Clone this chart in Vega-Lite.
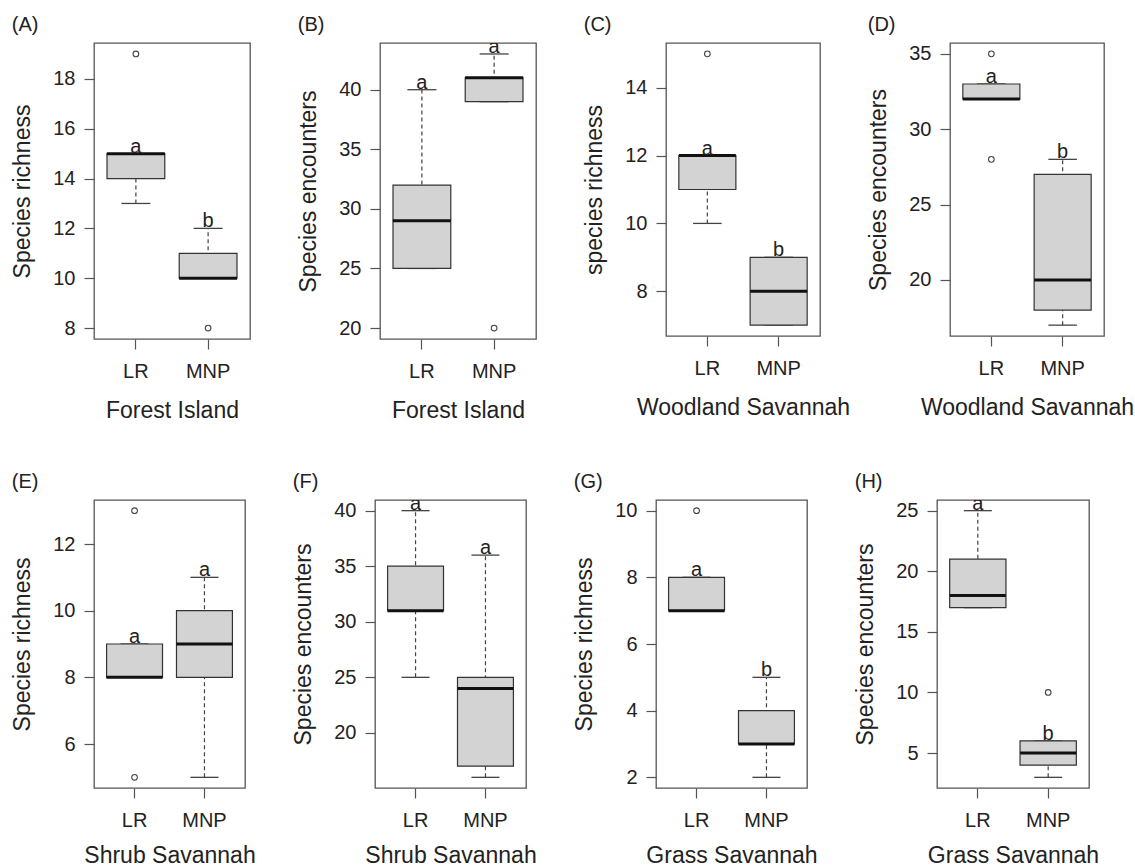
{
  "$schema": "https://vega.github.io/schema/vega-lite/v6.json",
  "background": "white",
  "padding": {"left": 11, "top": 14, "right": 5, "bottom": 5},
  "datasets": {
    "box": [
      {"p": "A", "site": "LR", "lo": 13, "q1": 14, "med": 15, "q3": 15, "hi": 15, "let": "a"},
      {"p": "A", "site": "MNP", "lo": 10, "q1": 10, "med": 10, "q3": 11, "hi": 12, "let": "b"},
      {"p": "B", "site": "LR", "lo": 25, "q1": 25, "med": 29, "q3": 32, "hi": 40, "let": "a"},
      {"p": "B", "site": "MNP", "lo": 39, "q1": 39, "med": 41, "q3": 41, "hi": 43, "let": "a"},
      {"p": "C", "site": "LR", "lo": 10, "q1": 11, "med": 12, "q3": 12, "hi": 12, "let": "a"},
      {"p": "C", "site": "MNP", "lo": 7, "q1": 7, "med": 8, "q3": 9, "hi": 9, "let": "b"},
      {"p": "D", "site": "LR", "lo": 32, "q1": 32, "med": 32, "q3": 33, "hi": 33, "let": "a"},
      {"p": "D", "site": "MNP", "lo": 17, "q1": 18, "med": 20, "q3": 27, "hi": 28, "let": "b"},
      {"p": "E", "site": "LR", "lo": 8, "q1": 8, "med": 8, "q3": 9, "hi": 9, "let": "a"},
      {"p": "E", "site": "MNP", "lo": 5, "q1": 8, "med": 9, "q3": 10, "hi": 11, "let": "a"},
      {"p": "F", "site": "LR", "lo": 25, "q1": 31, "med": 31, "q3": 35, "hi": 40, "let": "a"},
      {"p": "F", "site": "MNP", "lo": 16, "q1": 17, "med": 24, "q3": 25, "hi": 36, "let": "a"},
      {"p": "G", "site": "LR", "lo": 7, "q1": 7, "med": 7, "q3": 8, "hi": 8, "let": "a"},
      {"p": "G", "site": "MNP", "lo": 2, "q1": 3, "med": 3, "q3": 4, "hi": 5, "let": "b"},
      {"p": "H", "site": "LR", "lo": 17, "q1": 17, "med": 18, "q3": 21, "hi": 25, "let": "a"},
      {"p": "H", "site": "MNP", "lo": 3, "q1": 4, "med": 5, "q3": 6, "hi": 6, "let": "b"}
    ],
    "out": [
      {"p": "A", "site": "LR", "v": 19},
      {"p": "A", "site": "MNP", "v": 8},
      {"p": "B", "site": "MNP", "v": 20},
      {"p": "C", "site": "LR", "v": 15},
      {"p": "D", "site": "LR", "v": 35},
      {"p": "D", "site": "LR", "v": 28},
      {"p": "E", "site": "LR", "v": 13},
      {"p": "E", "site": "LR", "v": 5},
      {"p": "G", "site": "LR", "v": 10},
      {"p": "H", "site": "MNP", "v": 10}
    ]
  },
  "columns": 1,
  "align": "none",
  "center": true,
  "spacing": 48,
  "concat": [
    {
      "bounds": "flush",
      "spacing": 130,
      "hconcat": [
        {
          "title": "(A)", "width": 156, "height": 296,
          "data": {"name": "box"},
          "transform": [{"filter": "datum.p === 'A'"}],
          "encoding": {"x": {"field": "site", "type": "nominal", "scale": {"domain": ["LR", "MNP"], "paddingInner": 0.2, "paddingOuter": 0.18}, "axis": {"title": "Forest Island"}}},
          "layer": [
            {"mark": {"type": "rule", "strokeDash": [4, 3], "color": "#444", "strokeWidth": 1.2},
             "encoding": {"y": {"field": "lo", "type": "quantitative", "scale": {"domain": [7.56, 19.44], "nice": false, "zero": false}, "axis": {"title": "Species richness", "values": [8, 10, 12, 14, 16, 18]}}, "y2": {"field": "hi"}}},
            {"transform": [{"fold": ["lo", "hi"], "as": ["k", "cap"]}], "mark": {"type": "tick", "size": 29, "thickness": 1.3, "color": "#444", "opacity": 1}, "encoding": {"y": {"field": "cap", "type": "quantitative"}}},
            {"mark": {"type": "bar", "fill": "#d3d3d3", "stroke": "#333", "strokeWidth": 1.2}, "encoding": {"y": {"field": "q1", "type": "quantitative"}, "y2": {"field": "q3"}}},
            {"mark": {"type": "tick", "size": 58, "thickness": 3, "color": "#111", "opacity": 1}, "encoding": {"y": {"field": "med", "type": "quantitative"}}},
            {"mark": {"type": "text", "fontSize": 20, "color": "#222", "baseline": "alphabetic", "dy": -1, "clip": true}, "encoding": {"y": {"field": "hi", "type": "quantitative"}, "text": {"field": "let"}}},
            {"data": {"name": "out"}, "transform": [{"filter": "datum.p === 'A'"}], "mark": {"type": "point", "shape": "circle", "size": 32, "filled": false, "stroke": "#444", "strokeWidth": 1.1, "opacity": 1}, "encoding": {"y": {"field": "v", "type": "quantitative"}}}
          ]
        },
        {
          "title": "(B)", "width": 156, "height": 296,
          "data": {"name": "box"},
          "transform": [{"filter": "datum.p === 'B'"}],
          "encoding": {"x": {"field": "site", "type": "nominal", "scale": {"domain": ["LR", "MNP"], "paddingInner": 0.2, "paddingOuter": 0.18}, "axis": {"title": "Forest Island"}}},
          "layer": [
            {"mark": {"type": "rule", "strokeDash": [4, 3], "color": "#444", "strokeWidth": 1.2},
             "encoding": {"y": {"field": "lo", "type": "quantitative", "scale": {"domain": [19.08, 43.92], "nice": false, "zero": false}, "axis": {"title": "Species encounters", "values": [20, 25, 30, 35, 40]}}, "y2": {"field": "hi"}}},
            {"transform": [{"fold": ["lo", "hi"], "as": ["k", "cap"]}], "mark": {"type": "tick", "size": 29, "thickness": 1.3, "color": "#444", "opacity": 1}, "encoding": {"y": {"field": "cap", "type": "quantitative"}}},
            {"mark": {"type": "bar", "fill": "#d3d3d3", "stroke": "#333", "strokeWidth": 1.2}, "encoding": {"y": {"field": "q1", "type": "quantitative"}, "y2": {"field": "q3"}}},
            {"mark": {"type": "tick", "size": 58, "thickness": 3, "color": "#111", "opacity": 1}, "encoding": {"y": {"field": "med", "type": "quantitative"}}},
            {"mark": {"type": "text", "fontSize": 20, "color": "#222", "baseline": "alphabetic", "dy": -1, "clip": true}, "encoding": {"y": {"field": "hi", "type": "quantitative"}, "text": {"field": "let"}}},
            {"data": {"name": "out"}, "transform": [{"filter": "datum.p === 'B'"}], "mark": {"type": "point", "shape": "circle", "size": 32, "filled": false, "stroke": "#444", "strokeWidth": 1.1, "opacity": 1}, "encoding": {"y": {"field": "v", "type": "quantitative"}}}
          ]
        },
        {
          "title": "(C)", "width": 154, "height": 293,
          "data": {"name": "box"},
          "transform": [{"filter": "datum.p === 'C'"}],
          "encoding": {"x": {"field": "site", "type": "nominal", "scale": {"domain": ["LR", "MNP"], "paddingInner": 0.2, "paddingOuter": 0.18}, "axis": {"title": "Woodland Savannah"}}},
          "layer": [
            {"mark": {"type": "rule", "strokeDash": [4, 3], "color": "#444", "strokeWidth": 1.2},
             "encoding": {"y": {"field": "lo", "type": "quantitative", "scale": {"domain": [6.68, 15.32], "nice": false, "zero": false}, "axis": {"title": "species richness", "values": [8, 10, 12, 14]}}, "y2": {"field": "hi"}}},
            {"transform": [{"fold": ["lo", "hi"], "as": ["k", "cap"]}], "mark": {"type": "tick", "size": 28.5, "thickness": 1.3, "color": "#444", "opacity": 1}, "encoding": {"y": {"field": "cap", "type": "quantitative"}}},
            {"mark": {"type": "bar", "fill": "#d3d3d3", "stroke": "#333", "strokeWidth": 1.2}, "encoding": {"y": {"field": "q1", "type": "quantitative"}, "y2": {"field": "q3"}}},
            {"mark": {"type": "tick", "size": 57, "thickness": 3, "color": "#111", "opacity": 1}, "encoding": {"y": {"field": "med", "type": "quantitative"}}},
            {"mark": {"type": "text", "fontSize": 20, "color": "#222", "baseline": "alphabetic", "dy": -1, "clip": true}, "encoding": {"y": {"field": "hi", "type": "quantitative"}, "text": {"field": "let"}}},
            {"data": {"name": "out"}, "transform": [{"filter": "datum.p === 'C'"}], "mark": {"type": "point", "shape": "circle", "size": 32, "filled": false, "stroke": "#444", "strokeWidth": 1.1, "opacity": 1}, "encoding": {"y": {"field": "v", "type": "quantitative"}}}
          ]
        },
        {
          "title": "(D)", "width": 154, "height": 293,
          "data": {"name": "box"},
          "transform": [{"filter": "datum.p === 'D'"}],
          "encoding": {"x": {"field": "site", "type": "nominal", "scale": {"domain": ["LR", "MNP"], "paddingInner": 0.2, "paddingOuter": 0.18}, "axis": {"title": "Woodland Savannah"}}},
          "layer": [
            {"mark": {"type": "rule", "strokeDash": [4, 3], "color": "#444", "strokeWidth": 1.2},
             "encoding": {"y": {"field": "lo", "type": "quantitative", "scale": {"domain": [16.28, 35.72], "nice": false, "zero": false}, "axis": {"title": "Species encounters", "values": [20, 25, 30, 35]}}, "y2": {"field": "hi"}}},
            {"transform": [{"fold": ["lo", "hi"], "as": ["k", "cap"]}], "mark": {"type": "tick", "size": 28.5, "thickness": 1.3, "color": "#444", "opacity": 1}, "encoding": {"y": {"field": "cap", "type": "quantitative"}}},
            {"mark": {"type": "bar", "fill": "#d3d3d3", "stroke": "#333", "strokeWidth": 1.2}, "encoding": {"y": {"field": "q1", "type": "quantitative"}, "y2": {"field": "q3"}}},
            {"mark": {"type": "tick", "size": 57, "thickness": 3, "color": "#111", "opacity": 1}, "encoding": {"y": {"field": "med", "type": "quantitative"}}},
            {"mark": {"type": "text", "fontSize": 20, "color": "#222", "baseline": "alphabetic", "dy": -1, "clip": true}, "encoding": {"y": {"field": "hi", "type": "quantitative"}, "text": {"field": "let"}}},
            {"data": {"name": "out"}, "transform": [{"filter": "datum.p === 'D'"}], "mark": {"type": "point", "shape": "circle", "size": 32, "filled": false, "stroke": "#444", "strokeWidth": 1.1, "opacity": 1}, "encoding": {"y": {"field": "v", "type": "quantitative"}}}
          ]
        }
      ]
    },
    {
      "bounds": "flush",
      "spacing": 130,
      "hconcat": [
        {
          "title": "(E)", "width": 151, "height": 288,
          "data": {"name": "box"},
          "transform": [{"filter": "datum.p === 'E'"}],
          "encoding": {"x": {"field": "site", "type": "nominal", "scale": {"domain": ["LR", "MNP"], "paddingInner": 0.2, "paddingOuter": 0.18}, "axis": {"title": "Shrub Savannah", "titlePadding": 14}}},
          "layer": [
            {"mark": {"type": "rule", "strokeDash": [4, 3], "color": "#444", "strokeWidth": 1.2},
             "encoding": {"y": {"field": "lo", "type": "quantitative", "scale": {"domain": [4.68, 13.32], "nice": false, "zero": false}, "axis": {"title": "Species richness", "values": [6, 8, 10, 12]}}, "y2": {"field": "hi"}}},
            {"transform": [{"fold": ["lo", "hi"], "as": ["k", "cap"]}], "mark": {"type": "tick", "size": 28, "thickness": 1.3, "color": "#444", "opacity": 1}, "encoding": {"y": {"field": "cap", "type": "quantitative"}}},
            {"mark": {"type": "bar", "fill": "#d3d3d3", "stroke": "#333", "strokeWidth": 1.2}, "encoding": {"y": {"field": "q1", "type": "quantitative"}, "y2": {"field": "q3"}}},
            {"mark": {"type": "tick", "size": 56, "thickness": 3, "color": "#111", "opacity": 1}, "encoding": {"y": {"field": "med", "type": "quantitative"}}},
            {"mark": {"type": "text", "fontSize": 20, "color": "#222", "baseline": "alphabetic", "dy": -1, "clip": true}, "encoding": {"y": {"field": "hi", "type": "quantitative"}, "text": {"field": "let"}}},
            {"data": {"name": "out"}, "transform": [{"filter": "datum.p === 'E'"}], "mark": {"type": "point", "shape": "circle", "size": 32, "filled": false, "stroke": "#444", "strokeWidth": 1.1, "opacity": 1}, "encoding": {"y": {"field": "v", "type": "quantitative"}}}
          ]
        },
        {
          "title": "(F)", "width": 151, "height": 288,
          "data": {"name": "box"},
          "transform": [{"filter": "datum.p === 'F'"}],
          "encoding": {"x": {"field": "site", "type": "nominal", "scale": {"domain": ["LR", "MNP"], "paddingInner": 0.2, "paddingOuter": 0.18}, "axis": {"title": "Shrub Savannah", "titlePadding": 14}}},
          "layer": [
            {"mark": {"type": "rule", "strokeDash": [4, 3], "color": "#444", "strokeWidth": 1.2},
             "encoding": {"y": {"field": "lo", "type": "quantitative", "scale": {"domain": [15.04, 40.96], "nice": false, "zero": false}, "axis": {"title": "Species encounters", "values": [20, 25, 30, 35, 40]}}, "y2": {"field": "hi"}}},
            {"transform": [{"fold": ["lo", "hi"], "as": ["k", "cap"]}], "mark": {"type": "tick", "size": 28, "thickness": 1.3, "color": "#444", "opacity": 1}, "encoding": {"y": {"field": "cap", "type": "quantitative"}}},
            {"mark": {"type": "bar", "fill": "#d3d3d3", "stroke": "#333", "strokeWidth": 1.2}, "encoding": {"y": {"field": "q1", "type": "quantitative"}, "y2": {"field": "q3"}}},
            {"mark": {"type": "tick", "size": 56, "thickness": 3, "color": "#111", "opacity": 1}, "encoding": {"y": {"field": "med", "type": "quantitative"}}},
            {"mark": {"type": "text", "fontSize": 20, "color": "#222", "baseline": "alphabetic", "dy": -1, "clip": true}, "encoding": {"y": {"field": "hi", "type": "quantitative"}, "text": {"field": "let"}}},
            {"data": {"name": "out"}, "transform": [{"filter": "datum.p === 'F'"}], "mark": {"type": "point", "shape": "circle", "size": 32, "filled": false, "stroke": "#444", "strokeWidth": 1.1, "opacity": 1}, "encoding": {"y": {"field": "v", "type": "quantitative"}}}
          ]
        },
        {
          "title": "(G)", "width": 151, "height": 288,
          "data": {"name": "box"},
          "transform": [{"filter": "datum.p === 'G'"}],
          "encoding": {"x": {"field": "site", "type": "nominal", "scale": {"domain": ["LR", "MNP"], "paddingInner": 0.2, "paddingOuter": 0.18}, "axis": {"title": "Grass Savannah", "titlePadding": 14}}},
          "layer": [
            {"mark": {"type": "rule", "strokeDash": [4, 3], "color": "#444", "strokeWidth": 1.2},
             "encoding": {"y": {"field": "lo", "type": "quantitative", "scale": {"domain": [1.68, 10.32], "nice": false, "zero": false}, "axis": {"title": "Species richness", "values": [2, 4, 6, 8, 10]}}, "y2": {"field": "hi"}}},
            {"transform": [{"fold": ["lo", "hi"], "as": ["k", "cap"]}], "mark": {"type": "tick", "size": 28, "thickness": 1.3, "color": "#444", "opacity": 1}, "encoding": {"y": {"field": "cap", "type": "quantitative"}}},
            {"mark": {"type": "bar", "fill": "#d3d3d3", "stroke": "#333", "strokeWidth": 1.2}, "encoding": {"y": {"field": "q1", "type": "quantitative"}, "y2": {"field": "q3"}}},
            {"mark": {"type": "tick", "size": 56, "thickness": 3, "color": "#111", "opacity": 1}, "encoding": {"y": {"field": "med", "type": "quantitative"}}},
            {"mark": {"type": "text", "fontSize": 20, "color": "#222", "baseline": "alphabetic", "dy": -1, "clip": true}, "encoding": {"y": {"field": "hi", "type": "quantitative"}, "text": {"field": "let"}}},
            {"data": {"name": "out"}, "transform": [{"filter": "datum.p === 'G'"}], "mark": {"type": "point", "shape": "circle", "size": 32, "filled": false, "stroke": "#444", "strokeWidth": 1.1, "opacity": 1}, "encoding": {"y": {"field": "v", "type": "quantitative"}}}
          ]
        },
        {
          "title": "(H)", "width": 152, "height": 288,
          "data": {"name": "box"},
          "transform": [{"filter": "datum.p === 'H'"}],
          "encoding": {"x": {"field": "site", "type": "nominal", "scale": {"domain": ["LR", "MNP"], "paddingInner": 0.2, "paddingOuter": 0.18}, "axis": {"title": "Grass Savannah", "titlePadding": 14}}},
          "layer": [
            {"mark": {"type": "rule", "strokeDash": [4, 3], "color": "#444", "strokeWidth": 1.2},
             "encoding": {"y": {"field": "lo", "type": "quantitative", "scale": {"domain": [2.12, 25.88], "nice": false, "zero": false}, "axis": {"title": "Species encounters", "values": [5, 10, 15, 20, 25]}}, "y2": {"field": "hi"}}},
            {"transform": [{"fold": ["lo", "hi"], "as": ["k", "cap"]}], "mark": {"type": "tick", "size": 28, "thickness": 1.3, "color": "#444", "opacity": 1}, "encoding": {"y": {"field": "cap", "type": "quantitative"}}},
            {"mark": {"type": "bar", "fill": "#d3d3d3", "stroke": "#333", "strokeWidth": 1.2}, "encoding": {"y": {"field": "q1", "type": "quantitative"}, "y2": {"field": "q3"}}},
            {"mark": {"type": "tick", "size": 56, "thickness": 3, "color": "#111", "opacity": 1}, "encoding": {"y": {"field": "med", "type": "quantitative"}}},
            {"mark": {"type": "text", "fontSize": 20, "color": "#222", "baseline": "alphabetic", "dy": -1, "clip": true}, "encoding": {"y": {"field": "hi", "type": "quantitative"}, "text": {"field": "let"}}},
            {"data": {"name": "out"}, "transform": [{"filter": "datum.p === 'H'"}], "mark": {"type": "point", "shape": "circle", "size": 32, "filled": false, "stroke": "#444", "strokeWidth": 1.1, "opacity": 1}, "encoding": {"y": {"field": "v", "type": "quantitative"}}}
          ]
        }
      ]
    }
  ],
  "config": {
    "font": "Liberation Sans",
    "view": {"stroke": "#555", "strokeWidth": 1.3},
    "axis": {
      "domain": false, "grid": false,
      "tickColor": "#555", "tickSize": 10, "tickWidth": 1.2,
      "labelFont": "Liberation Sans", "titleFont": "Liberation Sans",
      "labelFontSize": 20, "titleFontSize": 23,
      "labelColor": "#222", "titleColor": "#222", "titleFontWeight": "normal"
    },
    "axisY": {"labelPadding": 9, "titlePadding": 18},
    "axisX": {"labelPadding": 12, "titlePadding": 18, "labelAngle": 0},
    "title": {"fontSize": 20, "fontWeight": "normal", "anchor": "start", "frame": "bounds", "color": "#222", "offset": 8, "font": "Liberation Sans"}
  }
}
